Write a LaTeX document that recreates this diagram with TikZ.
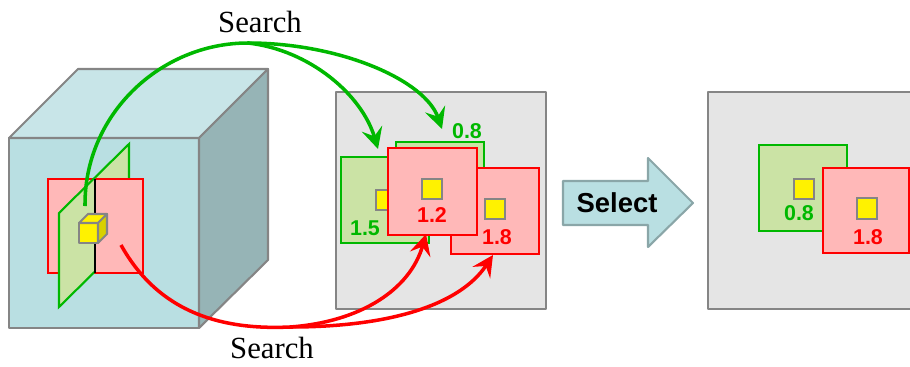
\documentclass[tikz,border=0pt]{standalone}
\usepackage{fontspec}
\setmainfont{Liberation Serif}
\setsansfont{Liberation Sans}
\usetikzlibrary{arrows.meta}

\definecolor{cubefront}{HTML}{B9DFE2}
\definecolor{cubetop}{HTML}{C8E5E8}
\definecolor{cubeside}{HTML}{96B4B6}
\definecolor{edgegray}{HTML}{858585}
\definecolor{panelgray}{HTML}{E5E5E5}
\definecolor{redfill}{HTML}{FFB8B8}
\definecolor{greenfill}{HTML}{CBE3A5}
\definecolor{grn}{HTML}{00B800}
\definecolor{yelside}{HTML}{D8D000}
\definecolor{arrowedge}{HTML}{8AA6A8}

\tikzset{
  edge/.style={draw=edgegray,line width=1.2pt,line join=round},
  redsq/.style={fill=redfill,draw=red,line width=1.4pt},
  grnsq/.style={fill=greenfill,draw=grn,line width=1.4pt},
  yelsq/.style={fill=yellow,draw=edgegray,line width=1.2pt},
  score/.style={font=\sffamily\bfseries\fontsize{12.2}{14}\selectfont,inner sep=0pt},
  grnarc/.style={grn,line width=2pt,-{Stealth[length=12pt,width=12pt,inset=4.5pt]}},
  redarc/.style={red,line width=2pt,-{Stealth[length=12pt,width=12pt,inset=4.5pt]}},
  caption/.style={font=\fontsize{17.5}{20}\selectfont,inner sep=0pt}
}

\begin{document}
\begin{tikzpicture}[x=0.2mm,y=-0.2mm]
\useasboundingbox (0,0) rectangle (910,367);

% volume
\draw[edge,fill=cubefront] (9,138) rectangle (199,328);
\draw[edge,fill=cubetop] (9,138) -- (78,69) -- (268,69) -- (199,138) -- cycle;
\draw[edge,fill=cubeside] (199,138) -- (268,69) -- (268,260) -- (199,328) -- cycle;

% two cutting planes
\filldraw[fill=greenfill,draw=grn,line width=1.2pt] (95,177.5) -- (129,144) -- (129,238) -- (95,271.5);
\draw[redsq] (48,179) rectangle (143,273);
\filldraw[fill=greenfill,draw=grn,line width=1.2pt] (95,177.5) -- (59,213) -- (59,307) -- (95,271.5);
\draw[line width=1.2pt] (95,179) -- (95,273);

% query voxel
\draw[edge,fill=yellow] (79,223) rectangle (98,243);
\draw[edge,fill=yellow] (79,223) -- (88,214) -- (107,214) -- (98,223) -- cycle;
\draw[edge,fill=yelside] (98,223) -- (107,214) -- (107,234) -- (98,243) -- cycle;

\coordinate (gstart) at (85,206);
\coordinate (gtop) at (248,43);
\coordinate (rstart) at (121,245);
\coordinate (rlow) at (290,327);

%---------------------------------

\draw[edge,fill=panelgray] (336,92) rectangle (546,309);
\draw[grnsq] (341,157) rectangle (429,243);
\draw[yelsq] (376,190) rectangle (396,210);
\draw[grnsq] (396,142) rectangle (484,230);
\draw[redsq] (451,168) rectangle (539,254);
\draw[yelsq] (485,199) rectangle (505,219);
\draw[redsq] (388,148) rectangle (477,235);
\draw[yelsq] (422,179) rectangle (442,199);

\node[score,text=grn] (s15) at (365,228) {1.5};
\node[score,text=grn] (s08) at (467,131) {0.8};
\node[score,text=red] (s12) at (432,215) {1.2};
\node[score,text=red] (s18) at (497,237) {1.8};

\coordinate (gend1) at (378,149);
\coordinate (gend2) at (442,129);
\coordinate (rend1) at (426,234);
\coordinate (rend2) at (493,255);

% search arcs
\draw[grn,line width=2pt] (gstart) .. controls (84,115) and (160,43) .. (gtop);
\draw[grnarc] (gtop) .. controls (340,43) and (425,80) .. (gend2);
\draw[grnarc] (gtop) .. controls (310,50) and (362,95) .. (gend1);
\draw[red,line width=2pt] (rstart) .. controls (160,315) and (225,330) .. (rlow);
\draw[redarc] (rlow) .. controls (360,322) and (410,290) .. (rend1);
\draw[redarc] (rlow) .. controls (390,327) and (460,305) .. (rend2);

\node[caption] (search1) at (260,22) {Search};
\node[caption] (search2) at (272,348) {Search};

%---------------------------------

\draw[draw=arrowedge,line width=1.2pt,fill=cubefront,line join=round]
  (563,181) -- (648,181) -- (648,158) -- (693,203) -- (648,247) -- (648,225) -- (563,225) -- cycle;
\node[font=\sffamily\bfseries\fontsize{15.6}{18}\selectfont,inner sep=0pt] (select) at (617,203) {Select};

%---------------------------------

\fill[panelgray] (708,92) rectangle (910,309);
\draw[edge] (910,92) -- (708,92) -- (708,309) -- (910,309);
\draw[grnsq] (759,145) rectangle (847,231);
\draw[yelsq] (794,179) rectangle (814,199);
\draw[redsq] (823,168) rectangle (909,253);
\draw[yelsq] (857,198) rectangle (877,219);
\node[score,text=grn] (r08) at (799,213) {0.8};
\node[score,text=red] (r18) at (868,237) {1.8};
\end{tikzpicture}
\end{document}
